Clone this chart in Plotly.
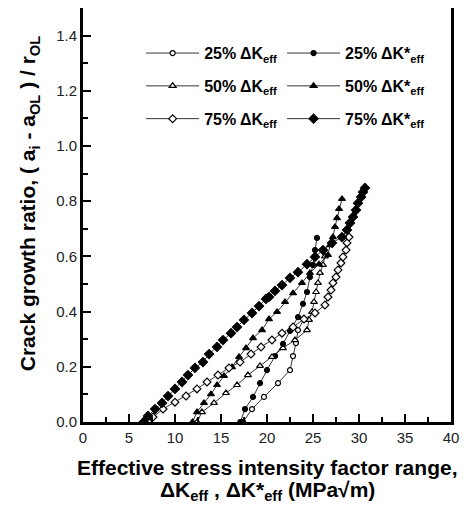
import plotly.graph_objects as go

# 25% ΔKeff (open circle)
x_25 = [17.4, 18.37, 19.67, 21.2, 22.5, 22.83, 23.15, 23.37, 24.02]
y_25 = [0.0, 0.047, 0.091, 0.141, 0.188, 0.239, 0.286, 0.333, 0.373]
# 25% ΔK*eff (filled circle)
x_25s = [17.1, 17.61, 18.48, 19.24, 20.0, 20.87, 21.74, 22.5, 23.37, 23.91, 24.35, 24.67, 25.0, 25.22, 25.43]
y_25s = [0.0, 0.047, 0.091, 0.141, 0.188, 0.239, 0.283, 0.33, 0.38, 0.428, 0.471, 0.525, 0.569, 0.623, 0.667]
# 50% ΔKeff (open triangle)
x_50 = [12.4, 12.93, 14.24, 15.54, 16.74, 17.93, 19.24, 20.54, 21.74, 23.04, 24.35, 24.57, 24.89, 25.11, 25.33, 25.54, 25.76, 26.09, 26.3]
y_50 = [0.0, 0.036, 0.069, 0.105, 0.134, 0.17, 0.203, 0.236, 0.268, 0.297, 0.333, 0.37, 0.399, 0.435, 0.471, 0.504, 0.54, 0.569, 0.60]
# 50% ΔK*eff (filled triangle)
x_50s = [11.9, 12.39, 13.15, 13.91, 14.57, 15.33, 16.2, 16.96, 17.72, 18.48, 19.46, 20.22, 21.09, 21.96, 22.83, 23.8, 24.67, 25.65, 26.63, 26.85, 27.17, 27.39, 27.61, 27.83, 28.15]
y_50s = [0.0, 0.036, 0.069, 0.101, 0.134, 0.167, 0.199, 0.236, 0.268, 0.304, 0.333, 0.373, 0.399, 0.435, 0.467, 0.504, 0.54, 0.572, 0.605, 0.641, 0.67, 0.707, 0.739, 0.772, 0.808]
# 75% ΔKeff (open diamond)
x_75 = [7.1, 7.61, 8.7, 10.0, 11.2, 12.39, 13.48, 14.67, 15.87, 17.07, 18.26, 19.35, 20.54, 21.63, 22.83, 24.02, 25.22, 26.3, 26.63, 26.96, 27.17, 27.5, 27.72, 28.04, 28.26, 28.59, 28.7, 28.91]
y_75 = [0.0, 0.018, 0.047, 0.072, 0.094, 0.12, 0.145, 0.17, 0.196, 0.217, 0.246, 0.272, 0.297, 0.322, 0.344, 0.373, 0.395, 0.424, 0.453, 0.478, 0.504, 0.525, 0.551, 0.576, 0.598, 0.623, 0.649, 0.67]
# 75% ΔK*eff (filled diamond)
x_75s = [6.6, 7.07, 7.83, 8.59, 9.24, 10.0, 10.76, 11.41, 12.17, 13.04, 13.7, 14.57, 15.22, 16.09, 16.74, 17.5, 18.37, 19.13, 19.89, 20.22, 20.87, 21.63, 22.5, 23.37, 24.35, 25.22, 26.09, 27.07, 28.15, 28.7, 29.02, 29.35, 29.67, 29.89, 30.22, 30.43, 30.65]
y_75s = [0.0, 0.022, 0.047, 0.069, 0.094, 0.12, 0.145, 0.17, 0.196, 0.217, 0.246, 0.272, 0.297, 0.322, 0.344, 0.37, 0.395, 0.42, 0.446, 0.453, 0.475, 0.496, 0.522, 0.543, 0.572, 0.598, 0.623, 0.649, 0.67, 0.696, 0.721, 0.743, 0.768, 0.793, 0.815, 0.833, 0.848]

x_ticks = [0, 5, 10, 15, 20, 25, 30, 35, 40]
y_ticks = [0.0, 0.2, 0.4, 0.6, 0.8, 1.0, 1.2, 1.4]

names = ["<b>25% ΔK<sub>eff</sub></b>", "<b>25% ΔK*<sub>eff</sub></b>",
         "<b>50% ΔK<sub>eff</sub></b>", "<b>50% ΔK*<sub>eff</sub></b>",
         "<b>75% ΔK<sub>eff</sub></b>", "<b>75% ΔK*<sub>eff</sub></b>"]

series = [
    (x_25, y_25, "circle", "white", 5, "legend", "g1"),
    (x_25s, y_25s, "circle", "black", 5, "legend2", "g2"),
    (x_50, y_50, "triangle-up", "white", 6, "legend", "g3"),
    (x_50s, y_50s, "triangle-up", "black", 6, "legend2", "g4"),
    (x_75, y_75, "diamond", "white", 6, "legend", "g5"),
    (x_75s, y_75s, "diamond", "black", 7, "legend2", "g6"),
]

fig = go.Figure()
for (xs, ys, sym, fill, sz, lg, grp), nm in zip(series, names):
    fig.add_trace(go.Scatter(
        x=xs, y=ys, mode="lines+markers", name=nm,
        line=dict(color="black", width=0.8),
        marker=dict(symbol=sym, size=sz, color=fill, line=dict(color="black", width=1.2)),
        legend=lg, legendgroup=grp,
    ))

legend_common = dict(
    bgcolor="rgba(0,0,0,0)", borderwidth=0,
    font=dict(family="Liberation Sans, Arial, sans-serif", size=16, color="black"),
    itemwidth=53, tracegroupgap=9, xanchor="left", yanchor="top",
)

fig.update_layout(
    width=464, height=498,
    margin=dict(l=75, r=21, t=0, b=84, autoexpand=False),
    paper_bgcolor="white", plot_bgcolor="white",
    font=dict(family="Liberation Sans, Arial, sans-serif", color="black"),
    showlegend=True,
    legend=dict(x=0.158, y=0.932, **legend_common),
    legend2=dict(x=0.541, y=0.932, **legend_common),
    xaxis=dict(
        range=[0, 40], tickvals=x_ticks, ticktext=[str(v) for v in x_ticks],
        ticks="inside", ticklen=8, tickwidth=2, tickcolor="black",
        minor=dict(dtick=2.5, tick0=0, ticks="inside", ticklen=5, tickwidth=2, tickcolor="black"),
        showline=True, linewidth=3, linecolor="black", mirror=True,
        showgrid=False, zeroline=False, automargin=False,
        tickfont=dict(size=15, color="#222"),
    ),
    yaxis=dict(
        range=[0, 1.5], tickvals=y_ticks, ticktext=[f"{v:.1f}" for v in y_ticks],
        ticks="inside", ticklen=8, tickwidth=2, tickcolor="black",
        minor=dict(dtick=0.1, tick0=0, ticks="inside", ticklen=5, tickwidth=2, tickcolor="black"),
        showline=True, linewidth=3, linecolor="black", mirror=True,
        showgrid=False, zeroline=False, automargin=False,
        tickfont=dict(size=15, color="#222"),
    ),
    annotations=[
        dict(text="<b>Crack growth ratio, ( a<sub>i</sub> - a<sub>OL</sub> ) / r<sub>OL</sub></b>",
             xref="paper", yref="paper", x=-0.146, y=0.529, textangle=-90,
             xanchor="center", yanchor="middle", showarrow=False,
             font=dict(size=21, color="black")),
        dict(text="<b>Effective stress intensity factor range,</b>", xref="paper", yref="paper",
             x=0.5, y=-0.11, xanchor="center", yanchor="middle", showarrow=False,
             font=dict(size=21, color="black")),
        dict(text="<b>ΔK<sub>eff</sub> , ΔK*<sub>eff</sub> (MPa√m)</b>", xref="paper", yref="paper",
             x=0.5, y=-0.166, xanchor="center", yanchor="middle", showarrow=False,
             font=dict(size=21, color="black")),
    ],
)

fig.write_html("out.html")
